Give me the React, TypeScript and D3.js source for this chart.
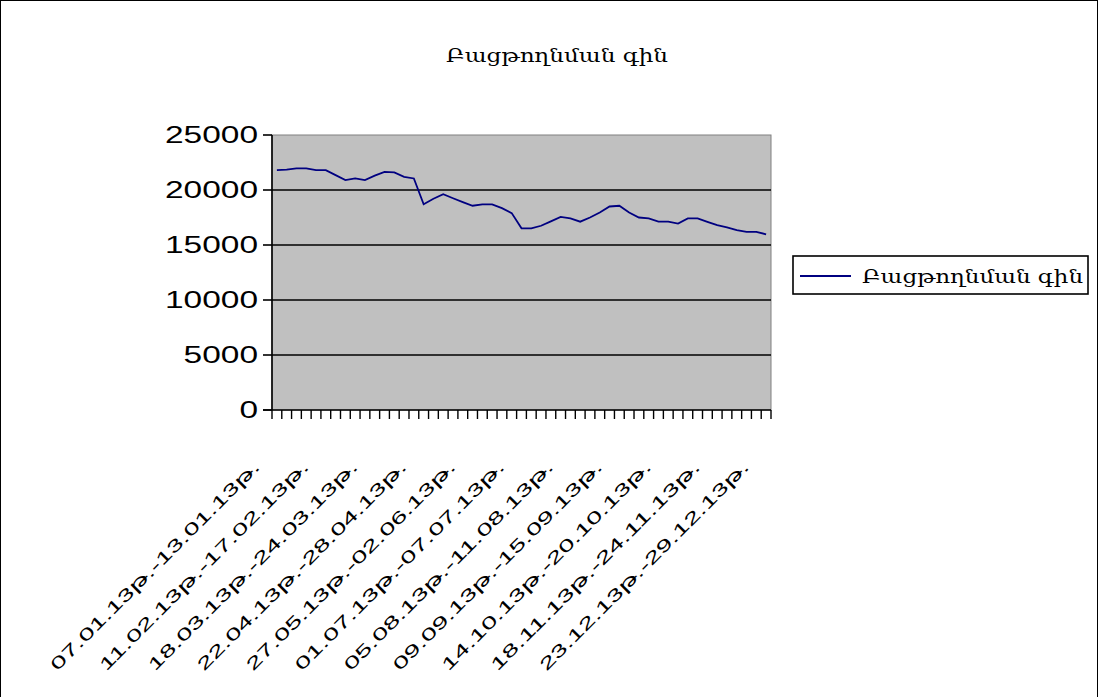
import React, { useRef, useEffect } from 'react'
import * as d3 from 'd3'

const title = 'Բացթողնման գին'

const weeks = [
  '07.01.13թ.-13.01.13թ.', '14.01.13թ.-20.01.13թ.', '21.01.13թ.-27.01.13թ.', '28.01.13թ.-03.02.13թ.',
  '04.02.13թ.-10.02.13թ.', '11.02.13թ.-17.02.13թ.', '18.02.13թ.-24.02.13թ.', '25.02.13թ.-03.03.13թ.',
  '04.03.13թ.-10.03.13թ.', '11.03.13թ.-17.03.13թ.', '18.03.13թ.-24.03.13թ.', '25.03.13թ.-31.03.13թ.',
  '01.04.13թ.-07.04.13թ.', '08.04.13թ.-14.04.13թ.', '15.04.13թ.-21.04.13թ.', '22.04.13թ.-28.04.13թ.',
  '29.04.13թ.-05.05.13թ.', '06.05.13թ.-12.05.13թ.', '13.05.13թ.-19.05.13թ.', '20.05.13թ.-26.05.13թ.',
  '27.05.13թ.-02.06.13թ.', '03.06.13թ.-09.06.13թ.', '10.06.13թ.-16.06.13թ.', '17.06.13թ.-23.06.13թ.',
  '24.06.13թ.-30.06.13թ.', '01.07.13թ.-07.07.13թ.', '08.07.13թ.-14.07.13թ.', '15.07.13թ.-21.07.13թ.',
  '22.07.13թ.-28.07.13թ.', '29.07.13թ.-04.08.13թ.', '05.08.13թ.-11.08.13թ.', '12.08.13թ.-18.08.13թ.',
  '19.08.13թ.-25.08.13թ.', '26.08.13թ.-01.09.13թ.', '02.09.13թ.-08.09.13թ.', '09.09.13թ.-15.09.13թ.',
  '16.09.13թ.-22.09.13թ.', '23.09.13թ.-29.09.13թ.', '30.09.13թ.-06.10.13թ.', '07.10.13թ.-13.10.13թ.',
  '14.10.13թ.-20.10.13թ.', '21.10.13թ.-27.10.13թ.', '28.10.13թ.-03.11.13թ.', '04.11.13թ.-10.11.13թ.',
  '11.11.13թ.-17.11.13թ.', '18.11.13թ.-24.11.13թ.', '25.11.13թ.-01.12.13թ.', '02.12.13թ.-08.12.13թ.',
  '09.12.13թ.-15.12.13թ.', '16.12.13թ.-22.12.13թ.', '23.12.13թ.-29.12.13թ.'
]

const prices = [
  21800, 21850, 21970, 21970, 21800, 21800, 21350, 20900, 21060, 20900,
  21300, 21650, 21600, 21200, 21050, 18700, 19200, 19610, 19250, 18900,
  18570, 18700, 18700, 18350, 17900, 16520, 16520, 16750, 17150, 17550,
  17420, 17120, 17500, 17950, 18500, 18570, 17950, 17500, 17420, 17120,
  17120, 16950, 17420, 17420, 17100, 16800, 16600, 16350, 16200, 16200,
  15970
]

const yTicks = [0, 5000, 10000, 15000, 20000, 25000]

const App = () => {
  const chartRef = useRef<SVGSVGElement>(null)

  useEffect(() => {
    const svg = d3.select(chartRef.current)
    svg.selectAll('*').remove()

    const plot = { left: 272, top: 135, right: 771, bottom: 410 }
    const font = "'Liberation Sans', 'DejaVu Sans', sans-serif"

    const x = d3.scaleBand<string>().domain(weeks).range([plot.left, plot.right])
    const y = d3.scaleLinear().domain([0, 25000]).range([plot.bottom, plot.top])

    // outer frame
    svg.append('rect')
      .attr('x', 0.5).attr('y', 0.5)
      .attr('width', 1097).attr('height', 740)
      .attr('fill', '#fff').attr('stroke', '#000')

    svg.append('text')
      .attr('x', 557).attr('y', 62)
      .attr('text-anchor', 'middle')
      .attr('font-family', "'DejaVu Serif', 'DejaVu Sans', serif")
      .attr('font-size', 19)
      .attr('textLength', 222)
      .attr('lengthAdjust', 'spacingAndGlyphs')
      .text(title)

    // plot area
    svg.append('rect')
      .attr('x', plot.left).attr('y', plot.top)
      .attr('width', plot.right - plot.left).attr('height', plot.bottom - plot.top)
      .attr('fill', '#c0c0c0').attr('stroke', '#808080')

    svg.append('g')
      .selectAll('line')
      .data(yTicks.filter(d => d > 0 && d < 25000))
      .enter()
      .append('line')
      .attr('x1', plot.left).attr('x2', plot.right)
      .attr('y1', d => y(d)).attr('y2', d => y(d))
      .attr('stroke', '#000').attr('stroke-width', 1.6)

    // y axis
    svg.append('line')
      .attr('x1', plot.left).attr('x2', plot.left)
      .attr('y1', plot.top).attr('y2', plot.bottom)
      .attr('stroke', '#000').attr('stroke-width', 1.6)

    svg.append('g')
      .selectAll('line')
      .data(yTicks)
      .enter()
      .append('line')
      .attr('x1', plot.left - 9).attr('x2', plot.left)
      .attr('y1', d => y(d)).attr('y2', d => y(d))
      .attr('stroke', '#000').attr('stroke-width', 1.6)

    svg.append('g')
      .selectAll('text')
      .data(yTicks)
      .enter()
      .append('text')
      .attr('x', 258)
      .attr('y', d => y(d) + 8)
      .attr('text-anchor', 'end')
      .attr('font-family', font)
      .attr('font-size', 23)
      .attr('textLength', d => String(d).length * 18.6)
      .attr('lengthAdjust', 'spacingAndGlyphs')
      .text(d => d)

    // x axis
    svg.append('line')
      .attr('x1', plot.left - 9).attr('x2', plot.right)
      .attr('y1', plot.bottom).attr('y2', plot.bottom)
      .attr('stroke', '#000').attr('stroke-width', 1.6)

    const bounds = weeks.map(w => x(w)!).concat([plot.right])
    svg.append('g')
      .selectAll('line')
      .data(bounds)
      .enter()
      .append('line')
      .attr('x1', d => d).attr('x2', d => d)
      .attr('y1', plot.bottom).attr('y2', plot.bottom + 9)
      .attr('stroke', '#000').attr('stroke-width', 1.4)

    const half = x.bandwidth() / 2
    svg.append('g')
      .selectAll('text')
      .data(weeks.filter((d, i) => i % 5 === 0))
      .enter()
      .append('text')
      .attr('transform', d => `translate(${x(d)! + half - 16}, 468) rotate(-45)`)
      .attr('text-anchor', 'end')
      .attr('font-family', font)
      .attr('font-size', 17)
      .attr('textLength', 288)
      .attr('lengthAdjust', 'spacingAndGlyphs')
      .text(d => d)

    // series
    svg.append('path')
      .datum(prices)
      .attr('fill', 'none')
      .attr('stroke', '#000080')
      .attr('stroke-width', 1.8)
      .attr('d', d3.line<number>()
        .x((d, i) => x(weeks[i])! + half)
        .y(d => y(d))
      )

    // legend
    svg.append('rect')
      .attr('x', 793).attr('y', 256)
      .attr('width', 295).attr('height', 38)
      .attr('fill', '#fff').attr('stroke', '#000').attr('stroke-width', 1.6)

    svg.append('line')
      .attr('x1', 800).attr('x2', 851)
      .attr('y1', 276).attr('y2', 276)
      .attr('stroke', '#000080').attr('stroke-width', 1.8)

    svg.append('text')
      .attr('x', 862).attr('y', 283)
      .attr('font-family', "'DejaVu Serif', 'DejaVu Sans', serif")
      .attr('font-size', 19)
      .attr('textLength', 221)
      .attr('lengthAdjust', 'spacingAndGlyphs')
      .text(title)
  }, [])

  return (
    <div style={{ position: 'absolute', left: 0, top: 0 }}>
      <svg ref={chartRef} width={1101} height={697} style={{ display: 'block' }}></svg>
    </div>
  )
}

export default App
